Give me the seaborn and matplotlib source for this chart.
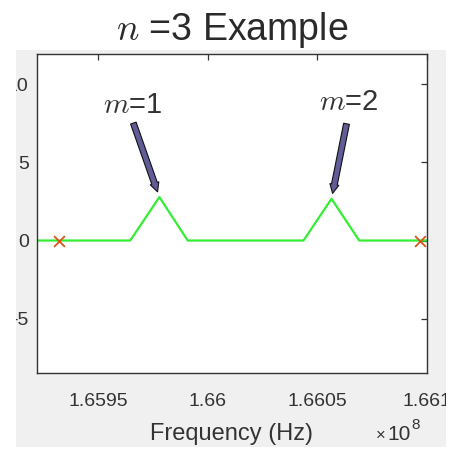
import matplotlib
matplotlib.use("Agg")
import matplotlib.pyplot as plt
import seaborn as sns
import pandas as pd
from matplotlib.patches import Rectangle

# Spectrum trace: frequency (Hz) and amplitude
freq_hz = [165900000, 165964500, 165977800, 165990750,
           166043600, 166056400, 166069050, 166120000]
amplitude = [0, 0, 2.78, 0, 0, 2.67, 0, 0]

# Carrier markers
marker_freq_hz = [165932140, 166096980]
marker_amp = [0, 0]

# Sideband orders labelled on the peaks
peak_orders = ["1", "2"]

x_ticks = [1.6595e8, 1.66e8, 1.6605e8, 1.661e8]
x_tick_labels = ["1.6595", "1.66", "1.6605", "1.661"]
y_ticks = [-5, 0, 5, 10]
y_tick_labels = ["-5", "0", "5", "10"]

sns.set_style("white")
plt.rcParams["font.family"] = ["Liberation Sans", "DejaVu Sans"]
plt.rcParams["mathtext.fontset"] = "cm"

W, H = 455, 450
fig = plt.figure(figsize=(W / 100, H / 100), dpi=100, facecolor="white")


def fx(px):
    return px / W


def fy(py):
    return 1 - py / H


# grey figure panel
fig.patches.append(Rectangle((fx(16), fy(447)), fx(446) - fx(16), fy(50) - fy(447),
                             transform=fig.transFigure, facecolor="#f0f0f0",
                             edgecolor="none", zorder=-10))

ax = fig.add_axes([fx(37), fy(373.3), fx(427) - fx(37), fy(54) - fy(373.3)])
ax.set_facecolor("white")

trace = pd.DataFrame({"freq": freq_hz, "amp": amplitude})
marks = pd.DataFrame({"freq": marker_freq_hz, "amp": marker_amp})

sns.lineplot(data=trace, x="freq", y="amp", sort=False, color="#33ee33",
             linewidth=1.6, ax=ax, zorder=2)
sns.scatterplot(data=marks, x="freq", y="amp", marker="x", color="#d95319",
                s=60, linewidth=1.3, ax=ax, zorder=3)

ax.set_xlim(165921930, 1.661e8)
ax.set_ylim(-8.5, 11.94)

ax.set_xticks(x_ticks)
ax.set_xticklabels(x_tick_labels)
ax.set_yticks(y_ticks)
ax.set_yticklabels(y_tick_labels)

edge = "#333333"
for s in ax.spines.values():
    s.set_visible(True)
    s.set_color(edge)
    s.set_linewidth(1.0)
ax.tick_params(axis="both", direction="in", length=4, width=0.9, color=edge,
               labelcolor="#333333", labelsize=14, top=True, right=True)
ax.tick_params(axis="x", pad=14.5)
ax.tick_params(axis="y", pad=6)

ax.set_xlabel("Frequency (Hz)", fontsize=17, color="#333333", labelpad=9)
ax.set_ylabel("")
ax.set_title("$n$ =3 Example", fontsize=27, color="#2a2a2a", pad=10)

# peak annotations
peaks = [(freq_hz[i], amplitude[i]) for i, a in enumerate(amplitude) if a > 0]
tail_offsets = [(-26, 74), (15, 75)]
label_offsets = [(-27, 92), (17, 97)]
for (px, py), order, toff, loff in zip(peaks, peak_orders, tail_offsets, label_offsets):
    ax.annotate("", xy=(px, py), xytext=toff, textcoords="offset pixels",
                arrowprops=dict(arrowstyle="simple,head_length=6.5,head_width=6.5,tail_width=4.2",
                                mutation_scale=1, facecolor="#615c98",
                                edgecolor="#111111", linewidth=0.8,
                                shrinkA=0, shrinkB=4))
    ax.annotate(f"$m$={order}", xy=(px, py), xytext=loff, textcoords="offset pixels",
                ha="center", va="center", fontsize=21, color="#333333")

# axis multiplier
fig.text(fx(386), fy(440), "\u00d7", fontsize=12, color="#333333",
         ha="right", va="baseline")
fig.text(fx(387), fy(440), "10", fontsize=15, color="#333333",
         ha="left", va="baseline")
fig.text(fx(411), fy(429), "8", fontsize=11, color="#333333",
         ha="left", va="baseline")

# white margins beyond the grey panel
for x0, x1 in [(0, 16), (446, W)]:
    fig.patches.append(Rectangle((fx(x0), 0), fx(x1) - fx(x0), 1,
                                 transform=fig.transFigure, facecolor="white",
                                 edgecolor="none", zorder=100))

fig.savefig("out.png", dpi=100, facecolor="white")
